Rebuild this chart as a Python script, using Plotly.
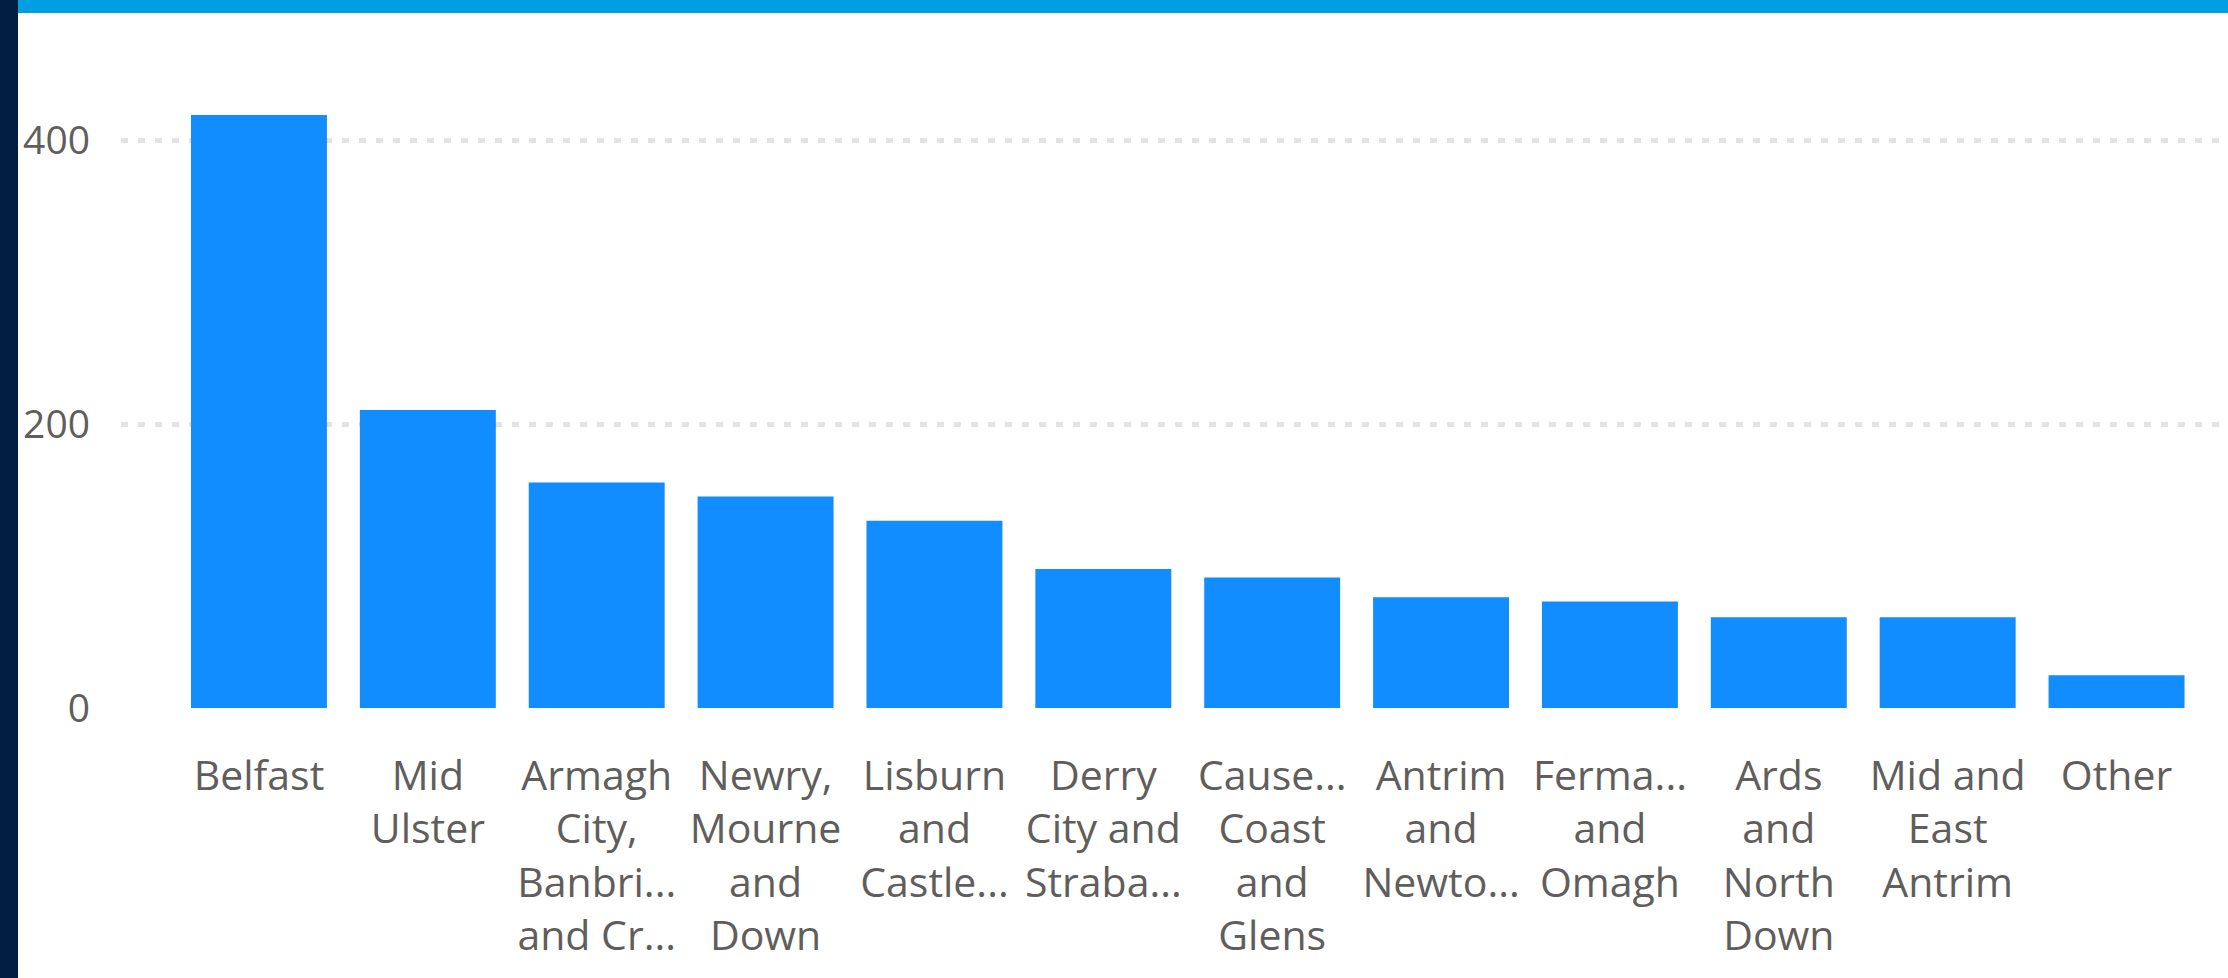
import plotly.graph_objects as go

# ---- data ----
categories = [
    "Belfast", "Mid Ulster", "Armagh City, Banbridge and Craigavon",
    "Newry, Mourne and Down", "Lisburn and Castlereagh", "Derry City and Strabane",
    "Causeway Coast and Glens", "Antrim and Newtownabbey", "Fermanagh and Omagh",
    "Ards and North Down", "Mid and East Antrim", "Other",
]
values = [418, 210, 159, 149, 132, 98, 92, 78, 75, 64, 64, 23]
tick_labels = [
    "Belfast", "Mid<br>Ulster", "Armagh<br>City,<br>Banbri...<br>and Cr...",
    "Newry,<br>Mourne<br>and<br>Down", "Lisburn<br>and<br>Castle...",
    "Derry<br>City and<br>Straba...", "Cause...<br>Coast<br>and<br>Glens",
    "Antrim<br>and<br>Newto...", "Ferma...<br>and<br>Omagh",
    "Ards<br>and<br>North<br>Down", "Mid and<br>East<br>Antrim", "Other",
]
y_ticks = [0, 200, 400]

# ---- layout geometry ----
W, H = 2228, 978
ML, MR, MT, MB = 121, 0, 30, 270
PW = W - ML - MR
PH = H - MT - MB

def px_x(p):
    return (p - ML) / PW

def px_y(p):
    return (H - MB - p) / PH

TEXT = "#605E5C"
FONT = "Open Sans"

fig = go.Figure(go.Bar(
    x=categories, y=values,
    marker=dict(color="#118DFF", line=dict(width=0)),
    hoverinfo="x+y",
))

fig.update_layout(
    width=W, height=H,
    margin=dict(l=ML, r=MR, t=MT, b=MB),
    paper_bgcolor="white", plot_bgcolor="white",
    bargap=0.195,
    showlegend=False,
    font=dict(family=FONT, size=39, color=TEXT),
    xaxis=dict(
        type="category",
        tickmode="array", tickvals=categories, ticktext=tick_labels,
        range=[-0.817, 11.66],
        showgrid=False, showline=False, zeroline=False,
        ticks="", tickangle=0,
        ticklabelstandoff=40,
        tickfont=dict(family=FONT, size=41, color=TEXT),
    ),
    yaxis=dict(
        range=[0, 477.9],
        tickmode="array", tickvals=y_ticks, ticktext=[str(v) for v in y_ticks],
        showgrid=True, gridcolor="#E3E3E3", gridwidth=5, griddash="7px,10px",
        zeroline=False, showline=False, ticks="",
        ticklabelstandoff=30,
        tickfont=dict(family=FONT, size=39, color=TEXT),
    ),
    shapes=[
        dict(type="rect", xref="paper", yref="paper",
             x0=px_x(18), x1=px_x(W), y0=px_y(0), y1=px_y(13),
             fillcolor="#00A0E0", line=dict(width=0), layer="above"),
        dict(type="rect", xref="paper", yref="paper",
             x0=px_x(0), x1=px_x(18), y0=px_y(0), y1=px_y(H),
             fillcolor="#021E42", line=dict(width=0), layer="above"),
    ],
)

fig.write_html("out.html")
